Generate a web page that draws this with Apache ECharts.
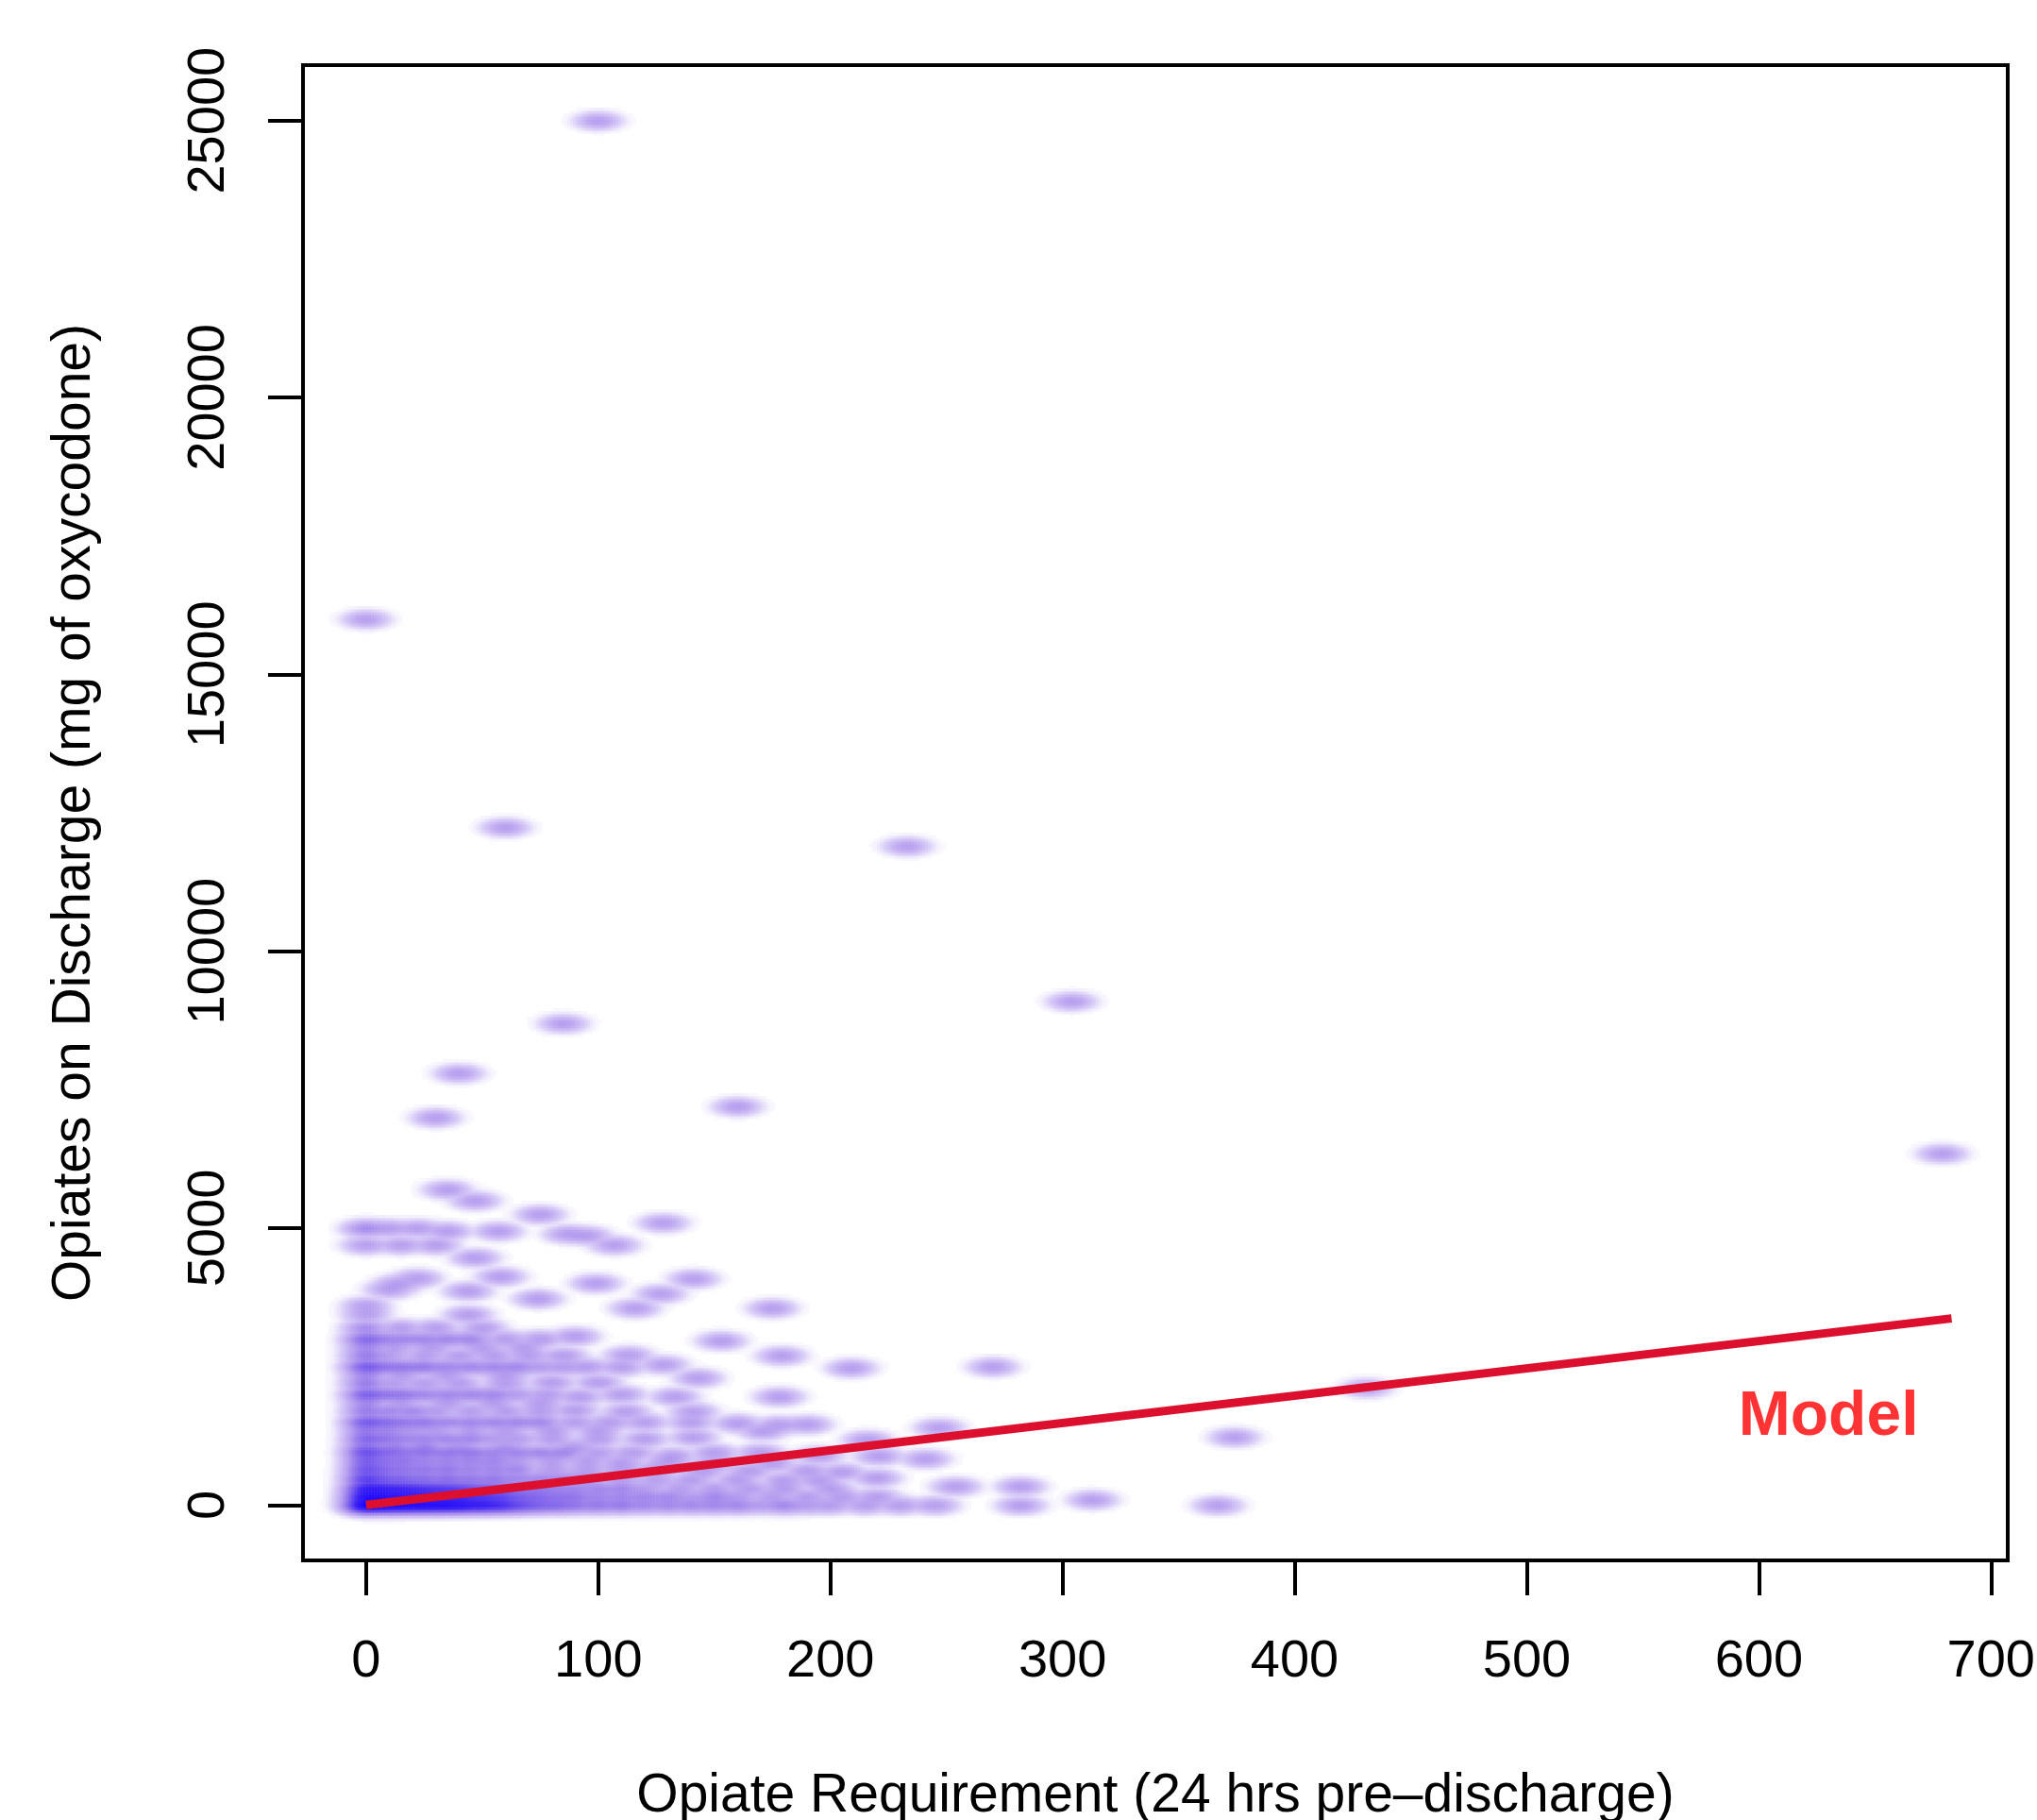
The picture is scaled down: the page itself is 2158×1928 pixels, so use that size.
<!DOCTYPE html>
<html><head><meta charset="utf-8">
<script src="https://cdn.jsdelivr.net/npm/echarts@6/dist/echarts.min.js"></script>
<style>html,body{margin:0;padding:0;background:#fff}#c{width:2158px;height:1928px}</style>
</head><body><div id="c"></div>
<script>
// ---------- axes ----------
const xTickValues = [0, 100, 200, 300, 400, 500, 600, 700];
const yTickValues = [0, 5000, 10000, 15000, 20000, 25000];
const xRange = [-27.2, 707.2];
const yRange = [-1000, 26000];
const xTitle = 'Opiate Requirement (24 hrs pre\u2013discharge)';
const yTitle = 'Opiates on Discharge (mg of oxycodone)';

// ---------- data: [opiate requirement, discharge opiates, number of patients] ----------
const outlierPts = [
  [100,25000,1],[0,16000,1],[60,12240,1],[233,11900,1],[304,9100,1],[85,8700,1],[40,7800,1],
  [30,7000,1],[160,7200,1],[679,6350,1],[374,1230,1],[431,2120,1],[270,2500,1],[209,2480,1],
  [254,340,1],[282,340,1],[282,0,1],[313,100,1],[367,0,1],[247,1400,1],[216,1180,1],
  [221,890,1],[241,840,1],[220,495,1]
];
const upperPts = [
  [35,5700,1],[47,5500,1],[75,5250,1],[128,5100,1],
  [0,5000,2],[10,5000,1],[22,5000,1],[35,4950,1],[57,4950,1],[87,4900,1],[95,4870,1],
  [0,4700,1],[15,4700,1],[30,4700,1],[107,4700,1],[47,4470,1],
  [22,4100,1],[14,4000,1],[58,4130,1],[99,4010,1],[141,4090,1],
  [10,3900,1],[44,3870,1],[127,3820,1],[74,3730,1],
  [0,3600,1],[0,3450,1],[44,3440,1],[116,3560,1],[175,3560,1]
];
const bandPts = [
  [0,3200,2],[15,3200,1],[30,3200,1],[50,3200,1],
  [0,3000,5],[8,3000,2],[16,3000,2],[25,3000,2],[35,3000,2],[45,3000,2],[60,3000,1],[75,3000,1],[90,3050,1],[153,2970,1],
  [0,2850,2],[12,2850,1],[28,2850,1],[50,2850,1],[68,2850,1],
  [0,2700,3],[10,2700,1],[25,2700,1],[40,2700,1],[55,2700,1],[70,2700,1],[85,2700,1],[113,2710,1],[179,2700,1],
  [0,2500,7],[8,2500,3],[16,2500,3],[25,2500,3],[35,2500,2],[45,2500,2],[55,2500,2],[65,2500,2],[75,2500,1],[85,2500,1],[95,2500,1],[110,2500,1],[128,2540,1],
  [0,2350,2],[15,2350,1],[35,2350,1],[60,2350,1],[143,2300,1],
  [0,2200,3],[12,2200,1],[25,2200,1],[40,2200,1],[60,2200,1],[80,2220,1],[100,2220,1],
  [0,2000,6],[8,2000,3],[16,2000,3],[25,2000,2],[35,2000,2],[45,2000,2],[55,2000,2],[65,2000,1],[78,2000,1],[92,1960,1],[110,2000,1],[133,1960,1],[178,1960,1],
  [0,1850,2],[15,1850,1],[35,1850,1],[55,1850,1],[75,1850,1],
  [0,1700,3],[10,1700,2],[20,1700,2],[30,1700,1],[45,1700,1],[60,1700,1],[75,1700,1],[90,1720,1],[112,1690,1],[141,1690,1],
  [0,1500,7],[8,1500,4],[16,1500,3],[25,1500,3],[35,1500,2],[45,1500,2],[55,1500,2],[65,1500,2],[75,1500,2],[90,1500,1],[105,1500,1],[120,1500,1],[140,1500,1],[160,1480,1],[178,1450,1],[190,1460,1],
  [0,1350,3],[10,1350,2],[20,1350,1],[30,1350,1],[45,1350,1],[60,1350,1],[80,1350,1],[100,1350,1],[171,1340,1],
  [0,1200,5],[8,1200,3],[16,1200,2],[25,1200,2],[35,1200,2],[45,1200,2],[55,1200,1],[65,1200,1],[80,1200,1],[100,1200,1],[120,1200,1],[141,1228,1],
  [0,1050,3],[12,1050,2],[25,1050,2],[40,1050,1],[60,1050,1],[90,1050,1],
  [0,950,8],[8,950,4],[16,950,3],[25,950,3],[35,950,3],[45,950,3],[55,950,2],[65,950,2],[75,950,2],[85,950,2],[100,950,1],[115,950,1],[132,890,1],[150,950,1],[170,950,1],[195,900,1],
  [0,800,6],[8,800,3],[16,800,3],[25,800,2],[35,800,2],[45,800,2],[55,800,2],[65,800,1],[80,800,1],[95,800,1],[110,780,1],[130,780,1],[150,760,1],[175,760,1],
  [0,650,8],[8,650,4],[16,650,3],[25,650,3],[35,650,3],[45,650,2],[55,650,2],[65,650,2],[80,650,1],[95,650,1],[110,650,1],[125,650,1],[145,620,1],[165,620,1],[190,620,1],[205,600,1],
  [0,480,12],[8,480,6],[16,480,5],[25,480,4],[35,480,4],[45,480,3],[55,480,3],[65,480,2],[75,480,2],[85,480,2],[95,480,2],[110,460,1],[125,460,1],[140,460,1],[160,460,1],[180,450,1],[195,450,1]
];
const corePts = [
  [0,0,40],[7,0,30],[14,0,28],[21,0,26],[28,0,24],[35,0,22],[42,0,20],[50,0,18],[58,0,14],[66,0,8],[74,0,5],[82,0,4],[90,0,3],[100,0,3],[110,0,3],[120,0,2],[130,0,2],[140,0,2],[150,0,2],[160,0,2],[170,0,1],[180,0,2],[190,0,1],[200,0,1],[215,0,1],[230,0,1],[245,0,1],
  [0,150,28],[7,150,22],[14,150,20],[21,150,18],[28,150,16],[35,150,14],[42,150,13],[50,150,11],[58,150,9],[66,150,5],[74,150,4],[82,150,3],[90,150,3],[100,150,2],[110,150,2],[120,150,2],[130,150,2],[140,150,1],[150,150,2],[160,150,1],[175,150,1],[190,150,1],[205,150,1],[220,150,1],
  [0,300,20],[7,300,16],[14,300,14],[21,300,12],[28,300,10],[35,300,9],[42,300,8],[50,300,6],[58,300,5],[66,300,3],[74,300,3],[82,300,2],[90,300,2],[100,300,2],[110,300,2],[120,300,1],[135,300,1],[150,300,1],[165,300,1],[180,300,1],[200,300,1]
];
// model fit line (endpoints)
const modelX = [0, 683];
const modelY = [0, 3370];
const modelLabel = 'Model';
const modelLabelAt = [630, 1570];

// ---------- smoothed density (smoothScatter-like) ----------
const allPts = outlierPts.concat(upperPts, bandPts, corePts);
const NX = 600, NY = 528;
const dx = (xRange[1] - xRange[0]) / NX, dy = (yRange[1] - yRange[0]) / NY;
const SX = 4.0, SY = 64;
const dens = new Float64Array(NX * NY);
allPts.forEach(([px, py, n]) => {
  const i0 = Math.max(0, Math.floor((px - 5 * SX - xRange[0]) / dx));
  const i1 = Math.min(NX - 1, Math.ceil((px + 5 * SX - xRange[0]) / dx));
  const j0 = Math.max(0, Math.floor((py - 5 * SY - yRange[0]) / dy));
  const j1 = Math.min(NY - 1, Math.ceil((py + 5 * SY - yRange[0]) / dy));
  for (let j = j0; j <= j1; j++) {
    const cy = yRange[0] + (j + 0.5) * dy;
    const ey = ((cy - py) / SY) ** 2;
    for (let i = i0; i <= i1; i++) {
      const cx = xRange[0] + (i + 0.5) * dx;
      dens[j * NX + i] += n * Math.exp(-0.5 * (((cx - px) / SX) ** 2 + ey));
    }
  }
});
let tmax = 0;
for (let k = 0; k < dens.length; k++) { const t = Math.pow(dens[k], 0.25); if (t > tmax) tmax = t; }
const cells = [];
for (let j = 0; j < NY; j++) for (let i = 0; i < NX; i++) {
  const v = Math.pow(dens[j * NX + i], 0.25) / tmax;
  if (v > 0.05) cells.push([xRange[0] + (i + 0.5) * dx, yRange[0] + (j + 0.5) * dy, v]);
}
const stops = [
  [0, [255,255,255]], [0.08, [247,244,253]], [0.18, [218,206,248]], [0.3, [195,175,242]],
  [0.38, [182,158,239]], [0.5, [152,125,235]], [0.65, [112,84,237]], [0.8, [62,36,243]], [1, [20,0,255]]
];
function colorAt(v) {
  for (let k = 1; k < stops.length; k++) {
    if (v <= stops[k][0]) {
      const a = stops[k-1], b = stops[k];
      const f = (v - a[0]) / (b[0] - a[0]);
      const c = a[1].map((q, m) => Math.round(q + (b[1][m] - q) * f));
      return 'rgb(' + c.join(',') + ')';
    }
  }
  return 'rgb(20,0,255)';
}

const FONT = 'Liberation Sans, Arial, Helvetica, sans-serif';
const chart = echarts.init(document.getElementById('c'));
chart.setOption({
  animation: false,
  backgroundColor: '#ffffff',
  grid: { left: 321, top: 69, right: 31, bottom: 275, show: true, borderColor: '#000', borderWidth: 4,
          backgroundColor: 'transparent', outerBoundsMode: 'none', containLabel: false },
  xAxis: {
    type: 'value', min: xRange[0], max: xRange[1],
    axisLine: { show: false, onZero: false }, splitLine: { show: false },
    axisTick: { show: true, inside: false, customValues: xTickValues, length: 37, lineStyle: { color: '#000', width: 4 } },
    axisLabel: { customValues: xTickValues, fontSize: 56, color: '#000', margin: 80, fontFamily: FONT,
                 formatter: v => String(v) },
    name: xTitle, nameLocation: 'middle', nameGap: 222,
    nameTextStyle: { fontSize: 57, color: '#000', fontFamily: FONT }
  },
  yAxis: {
    type: 'value', min: yRange[0], max: yRange[1],
    axisLine: { show: false, onZero: false }, splitLine: { show: false },
    axisTick: { show: true, inside: false, customValues: yTickValues, length: 37, lineStyle: { color: '#000', width: 4 } },
    axisLabel: { customValues: yTickValues, fontSize: 56, color: '#000', margin: 71, rotate: 90, fontFamily: FONT,
                 formatter: v => String(v) },
    name: yTitle, nameLocation: 'middle', nameGap: 213,
    nameTextStyle: { fontSize: 57, color: '#000', fontFamily: FONT }
  },
  series: [
    {
      type: 'custom', data: cells, clip: true, silent: true, progressive: 0,
      renderItem: function (params, api) {
        const x = api.value(0), y = api.value(1), v = api.value(2);
        const p0 = api.coord([x - dx / 2, y + dy / 2]);
        const p1 = api.coord([x + dx / 2, y - dy / 2]);
        return { type: 'rect', shape: { x: p0[0], y: p0[1], width: p1[0] - p0[0] + 0.5, height: p1[1] - p0[1] + 0.5 },
                 style: { fill: colorAt(v) } };
      }
    },
    {
      type: 'line', data: modelX.map((x, i) => [x, modelY[i]]), symbol: 'none',
      lineStyle: { color: '#dc0f2e', width: 9 }, silent: true
    },
    {
      type: 'scatter', data: [modelLabelAt], symbolSize: 0, silent: true,
      label: { show: true, formatter: modelLabel, position: 'inside', fontSize: 66, fontWeight: 'bold',
               color: '#ff0000', fontFamily: FONT }
    }
  ]
});
</script>
</body></html>
